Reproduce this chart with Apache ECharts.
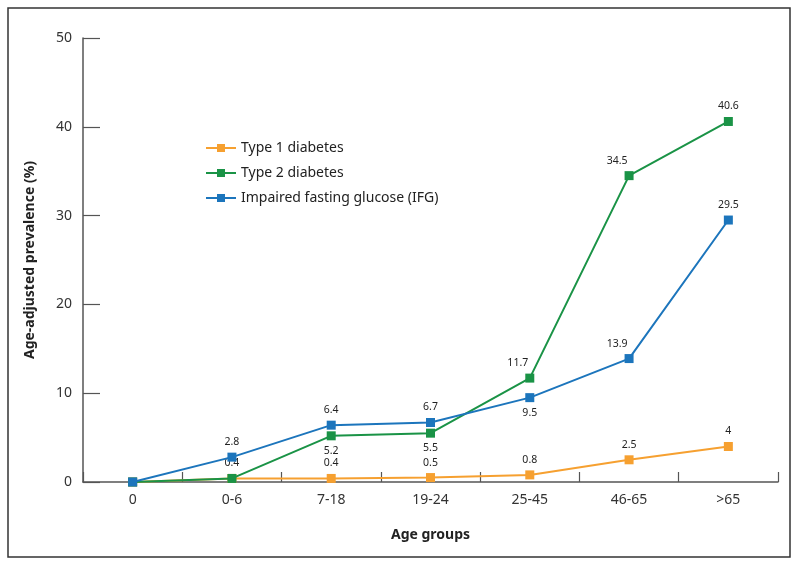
<!DOCTYPE html>
<html>
<head>
<meta charset="utf-8">
<script src="https://cdn.jsdelivr.net/npm/echarts@6/dist/echarts.min.js"></script>
<style>
html,body{margin:0;padding:0;background:#fff;}
#chart{width:799px;height:567px;}
</style>
</head>
<body>
<div id="chart"></div>
<script>
// ---- data ----
var categories = ['0', '0-6', '7-18', '19-24', '25-45', '46-65', '>65'];
var type1 = [0, 0.4, 0.4, 0.5, 0.8, 2.5, 4];
var type2 = [0, 0.4, 5.2, 5.5, 11.7, 34.5, 40.6];
var ifg = [0, 2.8, 6.4, 6.7, 9.5, 13.9, 29.5];
var yTicks = [0, 10, 20, 30, 40, 50];
var seriesNames = ['Type 1 diabetes', 'Type 2 diabetes', 'Impaired fasting glucose (IFG)'];

// ---- label placement (style only) ----
var type1Labels = [null, null, 'top', 'top', 'top', 'top', 'top'];
var type2Labels = [null, 'top', 'bottom', 'bottom', 'topleft', 'topleft', 'top'];
var ifgLabels = [null, 'top', 'top', 'top', 'bottom', 'topleft', 'top'];

var FONT = '"Noto Sans", "Open Sans", sans-serif';

function buildData(values, positions) {
  return values.map(function (v, i) {
    var p = positions[i];
    if (!p) return { value: v, label: { show: false } };
    var lab = { show: true, fontSize: 10.5, color: '#222', fontFamily: FONT };
    if (p === 'topleft') {
      lab.position = 'top';
      lab.offset = [-12, 0];
    } else {
      lab.position = p;
    }
    return { value: v, label: lab };
  });
}

var colors = ['#F6A030', '#1A9346', '#1C75BC'];

var chart = echarts.init(document.getElementById('chart'));
chart.setOption({
  animation: false,
  color: colors,
  textStyle: { fontFamily: FONT },
  graphic: [{
    type: 'rect',
    shape: { x: 8, y: 8, width: 782, height: 549 },
    style: { fill: 'none', stroke: '#333', lineWidth: 1.5 },
    silent: true
  }],
  legend: {
    left: 200,
    top: 136,
    orient: 'vertical',
    itemWidth: 30,
    itemHeight: 10,
    itemGap: 11,
    textStyle: { fontSize: 14, color: '#222', fontFamily: FONT },
    data: seriesNames
  },
  grid: { left: 83, right: 21, top: 38, bottom: 85 },
  xAxis: {
    type: 'category',
    data: categories,
    boundaryGap: true,
    name: 'Age groups',
    nameLocation: 'middle',
    nameGap: 46,
    nameTextStyle: { fontSize: 14, fontWeight: 'bold', color: '#222', fontFamily: FONT },
    axisLine: { lineStyle: { color: '#555', width: 1.5 } },
    axisTick: { show: true, inside: true, length: 10, interval: 0, lineStyle: { color: '#555', width: 1.2 } },
    axisLabel: { fontSize: 14, color: '#333', margin: 11, fontFamily: FONT }
  },
  yAxis: {
    type: 'value',
    min: yTicks[0],
    max: yTicks[yTicks.length - 1],
    interval: yTicks[1] - yTicks[0],
    name: 'Age-adjusted prevalence (%)',
    nameLocation: 'middle',
    nameGap: 46,
    nameTextStyle: { fontSize: 14, fontWeight: 'bold', color: '#222', fontFamily: FONT },
    axisLine: { show: true, lineStyle: { color: '#555', width: 1.5 } },
    axisTick: { show: true, inside: true, length: 17, lineStyle: { color: '#555', width: 1.2 } },
    splitLine: { show: false },
    axisLabel: { fontSize: 14, color: '#333', margin: 11, fontFamily: FONT }
  },
  series: [
    {
      name: seriesNames[0], type: 'line', data: buildData(type1, type1Labels),
      symbol: 'rect', symbolSize: 9, lineStyle: { width: 2 }, z: 2
    },
    {
      name: seriesNames[1], type: 'line', data: buildData(type2, type2Labels),
      symbol: 'rect', symbolSize: 9, lineStyle: { width: 2 }, z: 3
    },
    {
      name: seriesNames[2], type: 'line', data: buildData(ifg, ifgLabels),
      symbol: 'rect', symbolSize: 9, lineStyle: { width: 2 }, z: 4
    }
  ]
});
</script>
</body>
</html>
